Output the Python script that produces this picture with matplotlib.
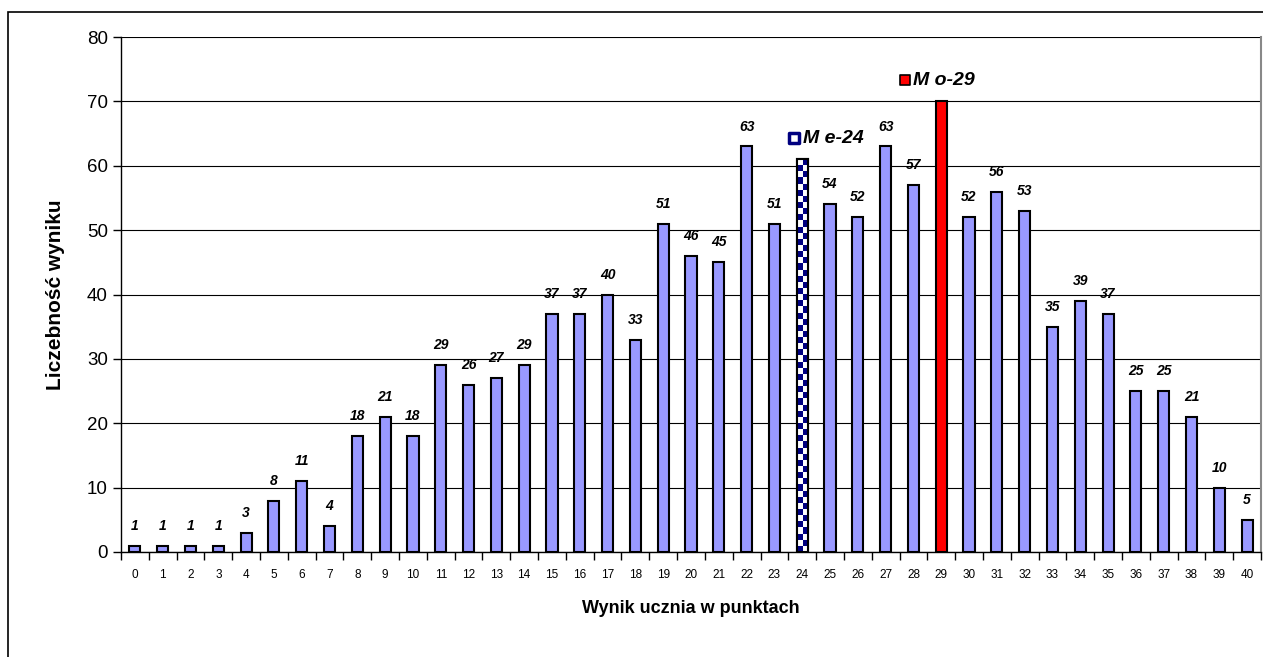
import matplotlib.pyplot as plt
import numpy as np
from matplotlib.patches import Rectangle
from matplotlib.colors import ListedColormap

plt.rcParams['font.family'] = ['Liberation Sans', 'DejaVu Sans']

scores = list(range(41))
counts = [1, 1, 1, 1, 3, 8, 11, 4, 18, 21, 18, 29, 26, 27, 29, 37, 37, 40, 33, 51,
          46, 45, 63, 51, 61, 54, 52, 63, 57, 70, 52, 56, 53, 35, 39, 37, 25, 25, 21, 10, 5]
median_score = 24
mode_score = 29
median_label = "M e-24"
mode_label = "M o-29"

fig = plt.figure(figsize=(12.63, 6.57), dpi=100)
ax = fig.add_axes([121 / 1263, 1 - 552 / 657, 1140 / 1263, 515 / 657])

# outer frame of the chart
fig.patches.append(Rectangle((8 / 1263, -0.05), 1.2, 1.05 - 12 / 657,
                             transform=fig.transFigure, fill=False,
                             edgecolor='black', linewidth=1.2))

colors = []
for s in scores:
    if s == mode_score:
        colors.append('#FF0000')
    elif s == median_score:
        colors.append('white')
    else:
        colors.append('#9999FF')

bars = ax.bar(scores, counts, width=0.4, color=colors, edgecolor='black',
              linewidth=1.5, zorder=3)

# checkerboard fill for median bar
mb = bars[median_score]
checker = np.indices((64, 2)).sum(axis=0) % 2
img = ax.imshow(checker, cmap=ListedColormap(['white', '#000080']),
                extent=(mb.get_x(), mb.get_x() + mb.get_width(), 0, mb.get_height()),
                aspect='auto', zorder=3.5, interpolation='nearest')
img.set_clip_path(mb)
ax.bar([median_score], [counts[median_score]], width=0.4, fill=False,
       edgecolor='black', linewidth=1.5, zorder=4)

for s, c in zip(scores, counts):
    if s in (median_score, mode_score):
        continue
    ax.text(s, c + 2.0, str(c), ha='center', va='bottom', fontsize=10,
            fontweight='bold', fontstyle='italic')

# legend-like markers
ax.scatter([median_score - 0.28], [64.3], marker='s', s=55, facecolor='white',
           edgecolor='#000080', linewidths=2.5, zorder=5, clip_on=False)
ax.text(median_score + 0.02, 64.3, median_label, ha='left', va='center',
        fontsize=14, fontweight='bold', fontstyle='italic')
ax.scatter([mode_score - 1.3], [73.3], marker='s', s=55, facecolor='red',
           edgecolor='black', linewidths=1.2, zorder=5, clip_on=False)
ax.text(mode_score - 1.0, 73.3, mode_label, ha='left', va='center',
        fontsize=14, fontweight='bold', fontstyle='italic')

ax.set_xlim(-0.5, 40.5)
ax.set_ylim(0, 80)
ax.set_yticks(range(0, 81, 10))
ax.tick_params(axis='y', labelsize=13.5, length=6, direction='out', width=1)
ax.yaxis.grid(True, color='black', linewidth=0.8, zorder=0)

ax.set_xticks(np.arange(-0.5, 41, 1))
ax.set_xticklabels([])
ax.set_xticks(scores, minor=True)
ax.set_xticklabels([str(s) for s in scores], minor=True, fontsize=8.5)
ax.tick_params(axis='x', which='major', length=6, direction='out', width=1)
ax.tick_params(axis='x', which='minor', length=0, pad=12)

ax.spines['top'].set_visible(False)
ax.spines['right'].set_color('#888888')
ax.spines['right'].set_linewidth(1.5)
ax.spines['left'].set_linewidth(1)
ax.spines['bottom'].set_linewidth(1)

ax.set_xlabel('Wynik ucznia w punktach', fontsize=13, fontweight='bold', labelpad=14)
ax.set_ylabel('Liczebność wyniku', fontsize=15, fontweight='bold', labelpad=16)

fig.savefig('out.png', dpi=100)
